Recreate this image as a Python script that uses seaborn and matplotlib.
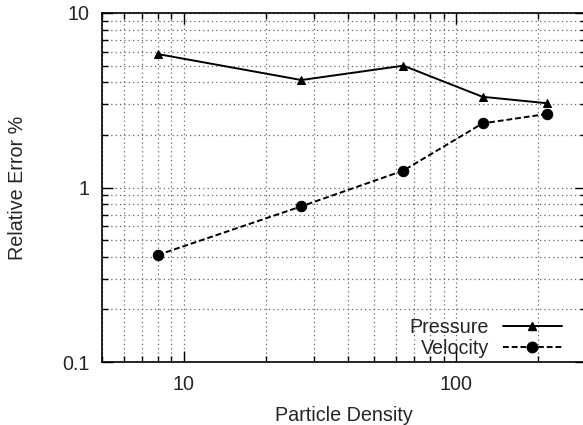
import matplotlib
matplotlib.use("Agg")
import matplotlib.pyplot as plt
import seaborn as sns
import pandas as pd
import numpy as np
from matplotlib.ticker import LogLocator, NullFormatter, FixedLocator, FixedFormatter
from matplotlib.lines import Line2D

density = [8, 27, 64, 125, 216]
pressure = [5.82, 4.13, 4.99, 3.31, 3.04]
velocity = [0.41, 0.78, 1.25, 2.33, 2.64]
series_names = ["Pressure", "Velocity"]
x_ticks = [10, 100]
x_tick_labels = ["10", "100"]
y_ticks = [0.1, 1, 10]
y_tick_labels = ["0.1", "1", "10"]

sns.set_theme(style="white")
plt.rcParams['font.family'] = ['Liberation Sans', 'DejaVu Sans']

df = pd.DataFrame({
    "Particle Density": density * 2,
    "Relative Error %": pressure + velocity,
    "series": [series_names[0]] * len(density) + [series_names[1]] * len(density),
})

fs = 14.2
fig = plt.figure(figsize=(5.83, 4.25), dpi=100)
W, H = 583, 425
left, right, top, bottom = 102, 586, 13, 362
ax = fig.add_axes([left / W, 1 - bottom / H, (right - left) / W, (bottom - top) / H])

sns.lineplot(data=df, x="Particle Density", y="Relative Error %", hue="series",
             style="series", palette=["black", "black"],
             markers={"Pressure": "^", "Velocity": "o"},
             dashes={"Pressure": "", "Velocity": (3, 1.5)},
             markersize=7, linewidth=1.4, markeredgecolor="black",
             legend=False, ax=ax)
for ln in ax.lines:
    if ln.get_marker() == "^":
        ln.set_markersize(6)
    elif ln.get_marker() == "o":
        ln.set_markersize(7.5)

ax.set_xscale("log")
ax.set_yscale("log")
ax.set_xlim(5, 300)
ax.set_ylim(0.1, 10)

ax.xaxis.set_major_locator(FixedLocator(x_ticks))
ax.xaxis.set_major_formatter(FixedFormatter(x_tick_labels))
ax.xaxis.set_minor_locator(LogLocator(base=10, subs=np.arange(2, 10)))
ax.xaxis.set_minor_formatter(NullFormatter())
ax.yaxis.set_major_locator(FixedLocator(y_ticks))
ax.yaxis.set_major_formatter(FixedFormatter(y_tick_labels))
ax.yaxis.set_minor_locator(LogLocator(base=10, subs=np.arange(2, 10)))
ax.yaxis.set_minor_formatter(NullFormatter())

ax.grid(True, which="both", linestyle=(0, (1, 2.5)), color="#666666", linewidth=0.9)
ax.tick_params(which="both", direction="in", top=True, right=True, bottom=True, left=True,
               color="black", width=1.0, labelsize=fs)
ax.tick_params(which="major", length=8, pad=9)
ax.tick_params(which="minor", length=4)
for s in ax.spines.values():
    s.set_color("black")
    s.set_linewidth(1.2)

ax.set_xlabel("Particle Density", fontsize=fs, labelpad=9)
ax.set_ylabel("Relative Error %", fontsize=fs, labelpad=25)

handles = [
    Line2D([], [], color="black", linewidth=1.4, marker="^", markersize=6),
    Line2D([], [], color="black", linewidth=1.4, marker="o", markersize=7.5, linestyle=(0, (3, 1.5))),
]
leg = ax.legend(handles, series_names, loc="lower right", frameon=False,
                markerfirst=False, fontsize=fs, handlelength=3.0, handletextpad=0.7,
                labelspacing=0.1, bbox_to_anchor=((566 - left) / (right - left), 0.0),
                borderaxespad=0.0, borderpad=0.2)
for t in leg.get_texts():
    t.set_ha("right")
fig.savefig("out.png", dpi=100)
